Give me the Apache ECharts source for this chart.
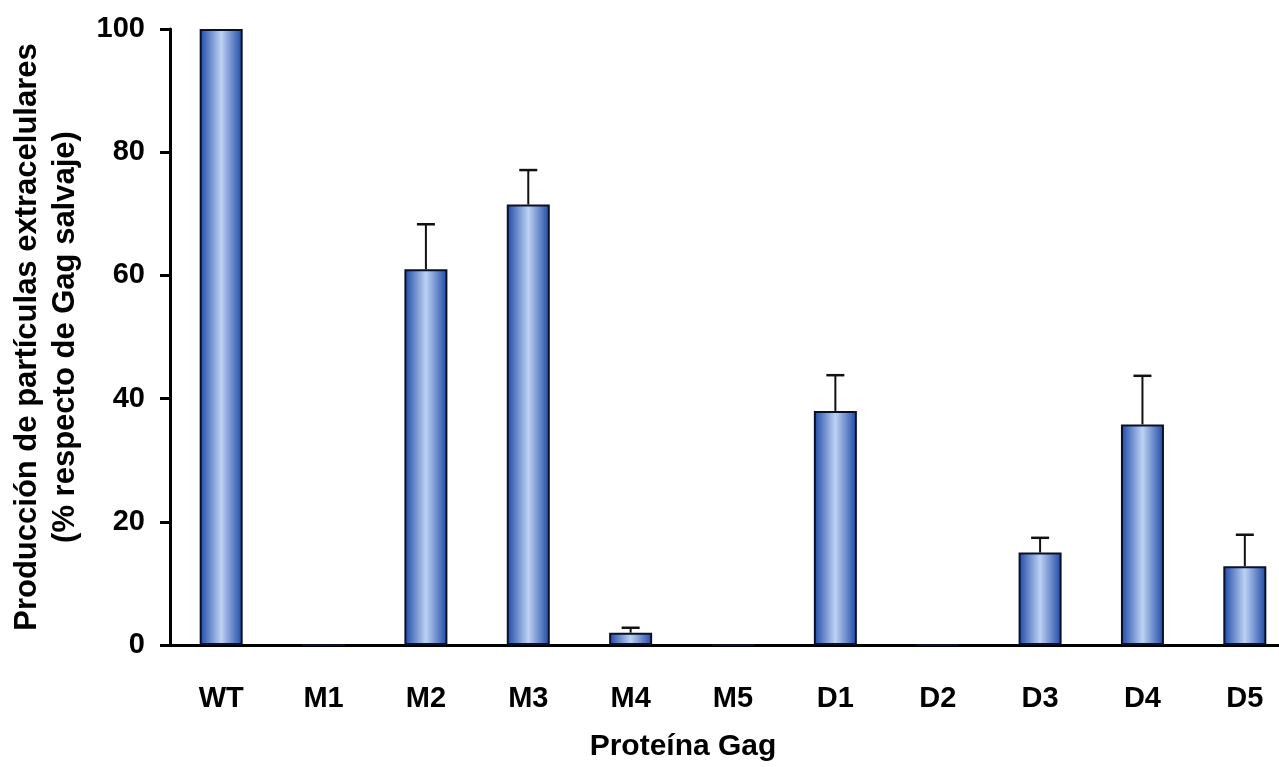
<!DOCTYPE html>
<html>
<head>
<meta charset="utf-8">
<script src="https://cdn.jsdelivr.net/npm/echarts@6/dist/echarts.min.js"></script>
<style>html,body{margin:0;padding:0;background:#fff;}#c{width:1279px;height:767px;}</style>
</head>
<body>
<div id="c"></div>
<script>
const categories = ['WT','M1','M2','M3','M4','M5','D1','D2','D3','D4','D5'];
const values = [100, 0, 61, 71.5, 2, 0, 38, 0, 15, 35.8, 12.8];
const errorTops = [null, null, 68.3, 77.1, 2.8, null, 43.8, null, 17.4, 43.7, 17.9];
const yTicks = [0, 20, 40, 60, 80, 100];
const yTitle = 'Producción de partículas extracelulares\n(% respecto de Gag salvaje)';
const xTitle = 'Proteína Gag';

const FONT = '"Liberation Sans", Arial, sans-serif';
const chart = echarts.init(document.getElementById('c'));
const errData = categories.map((c, i) => errorTops[i] == null ? null : [i, values[i], errorTops[i]]).filter(d => d);

chart.setOption({
  backgroundColor: '#ffffff',
  animation: false,
  grid: { left: 170, right: -17, top: 29, bottom: 122, containLabel: false, outerBoundsMode: 'none' },
  xAxis: {
    type: 'category',
    data: categories,
    axisLine: { lineStyle: { color: '#000', width: 3 } },
    axisTick: { show: false },
    axisLabel: { color: '#000', fontFamily: FONT, fontWeight: 'bold', fontSize: 29, margin: 39 },
    name: xTitle,
    nameLocation: 'middle',
    nameGap: 87,
    nameTextStyle: { color: '#000', fontFamily: FONT, fontWeight: 'bold', fontSize: 30, padding: [0, 100, 0, 0] }
  },
  yAxis: {
    type: 'value',
    min: yTicks[0], max: yTicks[yTicks.length - 1], interval: 20,
    splitLine: { show: false },
    axisLine: { show: true, lineStyle: { color: '#000', width: 3 } },
    axisTick: { show: true, length: 10, lineStyle: { color: '#000', width: 3 } },
    axisLabel: { color: '#000', fontFamily: FONT, fontWeight: 'bold', fontSize: 29, margin: 25 },
    name: yTitle,
    nameLocation: 'middle',
    nameRotate: 90,
    nameGap: 86,
    nameTextStyle: { color: '#000', fontFamily: FONT, fontWeight: 'bold', fontSize: 31, lineHeight: 38, align: 'center' }
  },
  series: [
    {
      type: 'bar',
      data: values,
      barWidth: 43,
      itemStyle: {
        color: new echarts.graphic.LinearGradient(0, 0, 1, 0, [
          { offset: 0, color: '#1c47a6' },
          { offset: 0.5, color: '#bdd2f3' },
          { offset: 1, color: '#1c47a6' }
        ]),
        borderColor: '#0a1028',
        borderWidth: 2
      },
      z: 2
    },
    {
      type: 'custom',
      data: errData,
      z: 3,
      renderItem: function (params, api) {
        const x = api.value(0);
        const base = api.coord([x, api.value(1)]);
        const top = api.coord([x, api.value(2)]);
        const hw = 9;
        return {
          type: 'group',
          children: [
            { type: 'line', shape: { x1: base[0], y1: base[1], x2: top[0], y2: top[1] }, style: { stroke: '#111', lineWidth: 2 } },
            { type: 'line', shape: { x1: top[0] - hw, y1: top[1], x2: top[0] + hw, y2: top[1] }, style: { stroke: '#111', lineWidth: 2.5 } }
          ]
        };
      }
    }
  ]
});
</script>
</body>
</html>
